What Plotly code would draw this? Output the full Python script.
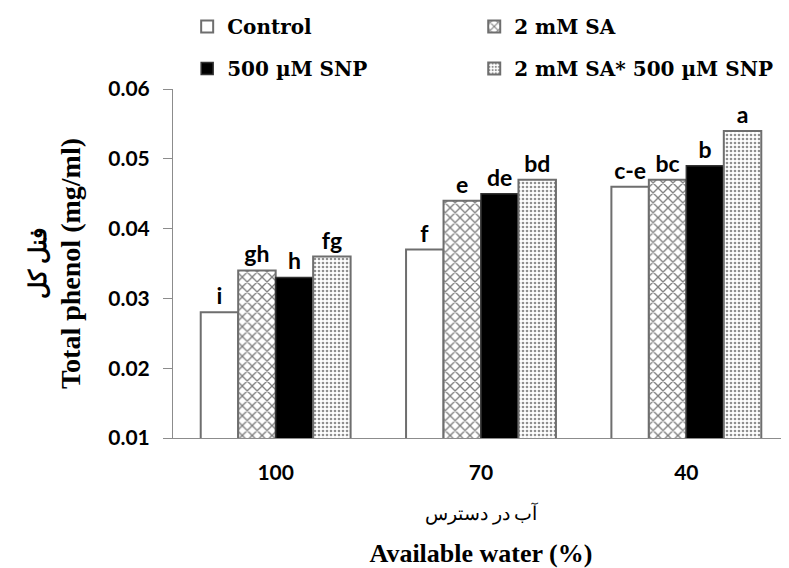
import plotly.graph_objects as go

categories = ["100", "70", "40"]
series_names = ["Control", "2 mM SA", "500 µM SNP", "2 mM SA* 500 µM SNP"]
control = [0.028, 0.037, 0.046]
sa = [0.034, 0.044, 0.047]
snp = [0.033, 0.045, 0.049]
sa_snp = [0.036, 0.047, 0.054]
letters_control = ["i", "f", "c-e"]
letters_sa = ["gh", "e", "bc"]
letters_snp = ["h", "de", "b"]
letters_sa_snp = ["fg", "bd", "a"]
y_ticks = [0.01, 0.02, 0.03, 0.04, 0.05, 0.06]

OUT = "#6e6e6e"

fig = go.Figure()
specs = [
    (series_names[0], control, letters_control, dict(color="white", line=dict(color=OUT, width=2)), "legend"),
    (series_names[1], sa, letters_sa, dict(color="white", line=dict(color=OUT, width=2),
                                           pattern=dict(shape="x", fgcolor="black", bgcolor="white", size=7, solidity=0.35)), "legend2"),
    (series_names[2], snp, letters_snp, dict(color="black", line=dict(color="#333333", width=1.5)), "legend"),
    (series_names[3], sa_snp, letters_sa_snp, dict(color="white", line=dict(color=OUT, width=2),
                                                   pattern=dict(shape=".", fgcolor="#222222", bgcolor="white", size=4, solidity=0.35)), "legend2"),
]
for i, (name, vals, lets, marker, leg) in enumerate(specs):
    fig.add_trace(go.Bar(
        x=categories, y=vals, name=name, marker=marker, legend=leg, legendgroup=f"g{i}",
        text=lets, textposition="outside", cliponaxis=False,
        textfont=dict(family="Lato", size=23, color="black", weight="bold"),
    ))

LEG_FONT = dict(family="DejaVu Serif", size=20, color="black", weight="bold")
fig.update_layout(
    width=781, height=560,
    margin=dict(l=165, r=0, t=81, b=130, autoexpand=False),
    plot_bgcolor="white", paper_bgcolor="white",
    barmode="group", bargap=0.27, bargroupgap=0,
    showlegend=True,
    legend=dict(x=0.023, y=1.235, xanchor="left", yanchor="top", orientation="v",
                font=LEG_FONT, bgcolor="rgba(0,0,0,0)", itemwidth=30, tracegroupgap=13),
    legend2=dict(x=0.489, y=1.235, xanchor="left", yanchor="top", orientation="v",
                 font=LEG_FONT, bgcolor="rgba(0,0,0,0)", itemwidth=30, tracegroupgap=13),
    font=dict(family="Lato", color="black"),
)

fig.update_yaxes(
    range=[0.01, 0.06], tickvals=y_ticks, tickformat=".2f",
    showgrid=False, zeroline=False,
    showline=True, linecolor="#8c8c8c", linewidth=1,
    ticks="outside", ticklen=9, tickcolor="#8c8c8c", ticklabelstandoff=9,
    tickfont=dict(family="Lato", size=21, color="black", weight="bold"),
    title=dict(text="<span style='font-size:24px'><b>فنل کل</b></span><br><span style='font-size:28px'><b>Total phenol (mg/ml)</b></span>",
               font=dict(family="Liberation Serif", size=26, color="black"), standoff=20),
)
fig.update_xaxes(
    showgrid=False, zeroline=False,
    showline=True, linecolor="#8c8c8c", linewidth=1,
    ticks="outside", ticklen=16, tickcolor="rgba(0,0,0,0)",
    tickfont=dict(family="Lato", size=21, color="black", weight="bold"),
    title=dict(text="<span style='font-size:19px'>آب در دسترس</span><br><span style='font-size:26px'><b>Available water (%)</b></span>",
               font=dict(family="Liberation Serif", size=32, color="black"), standoff=20),
)

fig.write_html("out.html")
